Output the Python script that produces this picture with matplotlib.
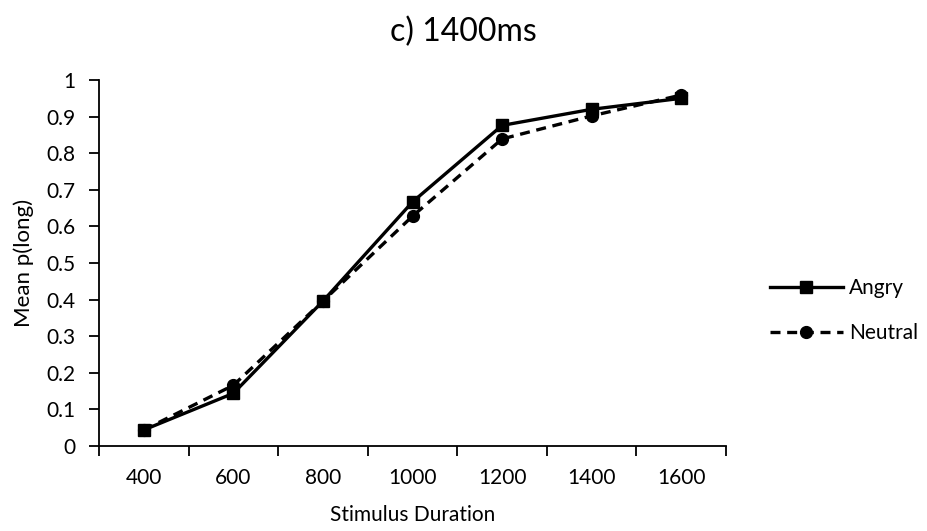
import matplotlib.pyplot as plt
import numpy as np
from matplotlib.ticker import FixedLocator, FuncFormatter

durations = ['400', '600', '800', '1000', '1200', '1400', '1600']
angry = [0.044, 0.144, 0.396, 0.667, 0.876, 0.920, 0.950]
neutral = [0.044, 0.166, 0.396, 0.628, 0.839, 0.902, 0.959]

plt.rcParams['font.family'] = ['Lato', 'DejaVu Sans']

fig = plt.figure(figsize=(9.27, 5.31), dpi=100)
ax = fig.add_axes([0.1068, 0.160, 0.6764, 0.6893])

x = np.arange(len(durations))
ax.plot(x, angry, color='black', lw=2.4, marker='s', markersize=8.5,
        label='Angry')
ax.plot(x, neutral, color='black', lw=2.4, ls=(0, (3, 2)), marker='o',
        markersize=8.5, label='Neutral')

ax.set_xlim(-0.5, len(durations) - 0.5)
ax.set_ylim(0, 1)

# category axis: tick marks between categories, labels centred on them
ax.xaxis.set_major_locator(FixedLocator(np.arange(-0.5, len(durations), 1.0)))
ax.xaxis.set_minor_locator(FixedLocator(x))
ax.xaxis.set_major_formatter(FuncFormatter(lambda v, p: ''))
ax.xaxis.set_minor_formatter(FuncFormatter(lambda v, p: durations[int(round(v))]))
ax.tick_params(axis='x', which='major', direction='out', length=7, width=1.3)
ax.tick_params(axis='x', which='minor', length=0, pad=16, labelsize=15)

ax.set_yticks(np.arange(0, 1.01, 0.1))
ax.yaxis.set_major_formatter(FuncFormatter(lambda v, p: '%g' % round(v, 1)))
ax.tick_params(axis='y', direction='out', length=7, width=1.3, labelsize=15, pad=10)

for side in ['top', 'right']:
    ax.spines[side].set_visible(False)
for side in ['left', 'bottom']:
    ax.spines[side].set_linewidth(1.3)

ax.set_xlabel('Stimulus Duration', fontsize=15, labelpad=12)
ax.set_ylabel('Mean p(long)', fontsize=16, labelpad=9)
fig.text(0.5, 0.94, 'c) 1400ms', ha='center', va='center', fontsize=23)

ax.legend(loc='center left', bbox_to_anchor=(0.81, 0.415),
          bbox_transform=fig.transFigure, frameon=False,
          handlelength=3.5, labelspacing=1.2, handletextpad=0.3,
          prop={'size': 15})

fig.savefig('out.png', dpi=100)
